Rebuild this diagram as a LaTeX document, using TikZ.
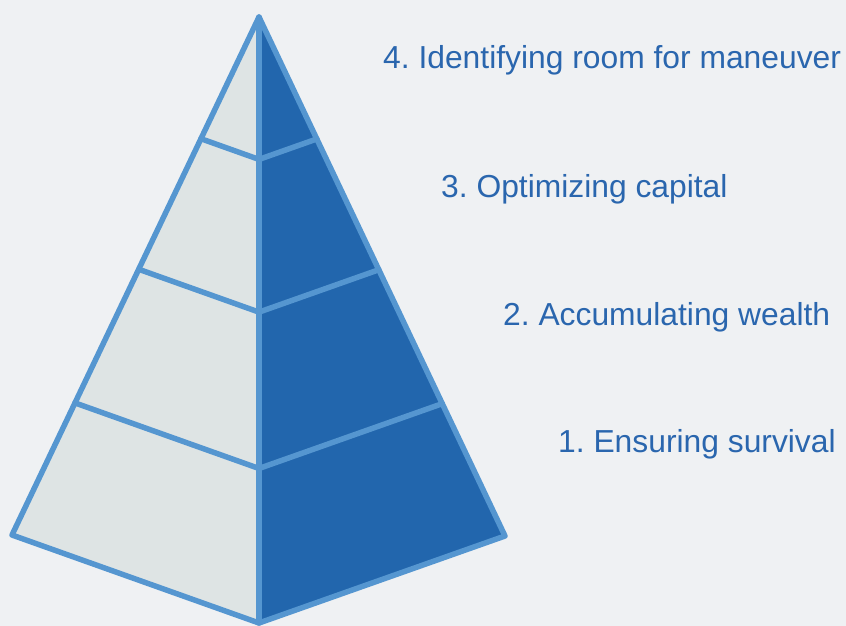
\documentclass[tikz,border=0pt]{standalone}
\usepackage{fontspec}
\setmainfont{Liberation Sans}
\usetikzlibrary{calc}
\definecolor{bgcolor}{RGB}{239, 241, 243}
\definecolor{lightface}{RGB}{222, 228, 228}
\definecolor{darkface}{RGB}{34, 102, 173}
\definecolor{edgeblue}{RGB}{85, 150, 208}
\definecolor{textblue}{RGB}{42, 102, 174}
\frenchspacing

\begin{document}
\begin{tikzpicture}[
    x=1pt, y=-1pt, % pixel-like units, y pointing down
    edge/.style={ % Style for the pyramid outlines
        draw=edgeblue,
        line width=5.5pt,
        line join=round,
        line cap=round
    },
    level_text/.style={ % Style for the level labels
        anchor=base west,
        inner sep=0pt,
        font=\fontsize{31.8}{36}\selectfont,
        text=textblue
    }
]

% Background and bounding box
\fill[bgcolor] (0,0) rectangle (846,626);
\useasboundingbox (0,0) rectangle (846,626);

% Pyramid corners
\coordinate (apex) at (259,17);
\coordinate (left) at (12,535);
\coordinate (bottom) at (259,623);
\coordinate (right) at (505,536);

% Faces
\fill[lightface] (apex) -- (left) -- (bottom) -- cycle;
\fill[darkface] (apex) -- (right) -- (bottom) -- cycle;

% Band lines between the levels
\foreach \t in {0.235, 0.487, 0.745} {
    \draw[edge] ($(apex)!\t!(left)$) -- ($(apex)!\t!(bottom)$) -- ($(apex)!\t!(right)$);
}

% Outline and middle ridge
\draw[edge] (apex) -- (left) -- (bottom) -- (right) -- cycle;
\draw[edge] (apex) -- (bottom);

% Level labels
\node[level_text] (level4) at (383,69) {4. Identifying room for maneuver};
\node[level_text] (level3) at (441,197) {3. Optimizing capital};
\node[level_text] (level2) at (503,325) {2. Accumulating wealth};
\node[level_text] (level1) at (558,452) {1. Ensuring survival};

\end{tikzpicture}
\end{document}
